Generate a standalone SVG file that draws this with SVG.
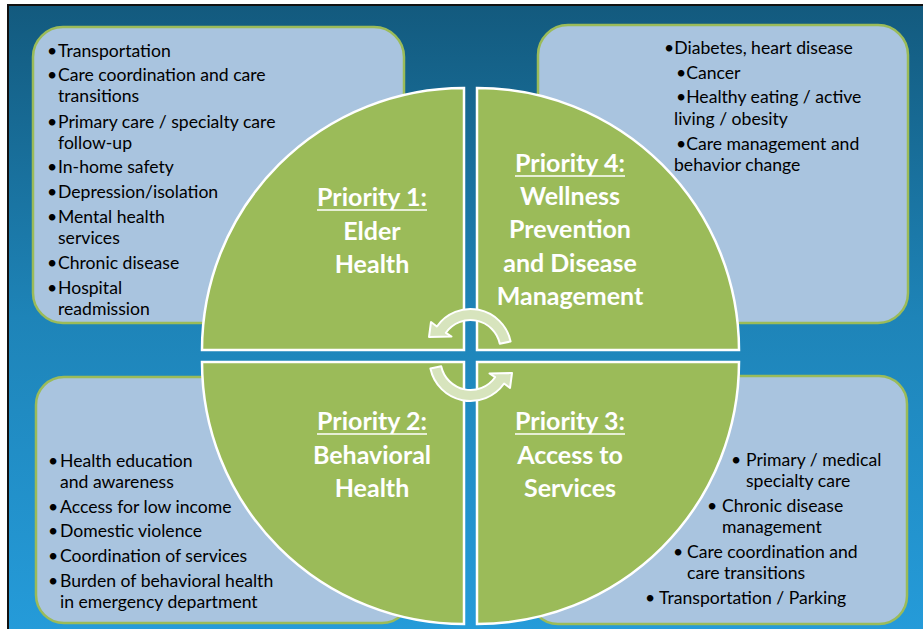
<svg xmlns="http://www.w3.org/2000/svg" width="923" height="629" viewBox="0 0 923 629">
<defs>
<linearGradient id="bg" x1="0" y1="0" x2="0" y2="1">
<stop offset="0" stop-color="#135a7e"/>
<stop offset="0.5" stop-color="#1e84b8"/>
<stop offset="1" stop-color="#259bd9"/>
</linearGradient>
<style>
.box{fill:#a9c4df;stroke:#9bbb59;stroke-width:2.5}
.quad{fill:#9bbb59;stroke:#ffffff;stroke-width:2.5}
.t{font-family:Lato,"Liberation Sans",sans-serif;font-size:17.6px;fill:#000}
.h{font-family:Lato,"Liberation Sans",sans-serif;font-size:25px;font-weight:bold;fill:#fff;text-anchor:middle}
.u{stroke:#fff;stroke-width:1.5}
.arr{fill:#d7e4bd;stroke:#ffffff;stroke-width:2;stroke-linejoin:round}
</style>
</defs>
<rect x="0" y="0" width="923" height="629" fill="#fff"/>
<rect x="8" y="5" width="916" height="625" fill="url(#bg)" stroke="#111" stroke-width="2"/>

<g id="box-elder">
<rect class="box" x="33" y="27" width="371" height="296" rx="30"/>
<text class="t" x="47" y="57">•</text><text class="t" x="58" y="57">Transportation</text>
<text class="t" x="47" y="81">•</text><text class="t" x="58" y="81">Care coordination and care</text>
<text class="t" x="58" y="102">transitions</text>
<text class="t" x="47" y="128">•</text><text class="t" x="58" y="128">Primary care / specialty care</text>
<text class="t" x="58" y="149">follow-up</text>
<text class="t" x="47" y="173">•</text><text class="t" x="58" y="173">In-home safety</text>
<text class="t" x="47" y="198">•</text><text class="t" x="58" y="198">Depression/isolation</text>
<text class="t" x="47" y="223">•</text><text class="t" x="58" y="223">Mental health</text>
<text class="t" x="58" y="244">services</text>
<text class="t" x="47" y="269">•</text><text class="t" x="58" y="269">Chronic disease</text>
<text class="t" x="47" y="294">•</text><text class="t" x="58" y="294">Hospital</text>
<text class="t" x="58" y="315">readmission</text>
</g>

<g id="box-wellness">
<rect class="box" x="538" y="25" width="370" height="298" rx="30"/>
<text class="t" x="664" y="54">•Diabetes, heart disease</text>
<text class="t" x="676" y="79">•Cancer</text>
<text class="t" x="676" y="103">•Healthy eating / active</text>
<text class="t" x="674" y="125">living / obesity</text>
<text class="t" x="676" y="150">•Care management and</text>
<text class="t" x="674" y="171">behavior change</text>
</g>

<g id="box-behavioral">
<rect class="box" x="36" y="377" width="374" height="246" rx="28"/>
<text class="t" x="48" y="467">•</text><text class="t" x="60" y="467">Health education</text>
<text class="t" x="60" y="488">and awareness</text>
<text class="t" x="48" y="513">•</text><text class="t" x="60" y="513">Access for low income</text>
<text class="t" x="48" y="537">•</text><text class="t" x="60" y="537">Domestic violence</text>
<text class="t" x="48" y="562">•</text><text class="t" x="60" y="562">Coordination of services</text>
<text class="t" x="48" y="587">•</text><text class="t" x="60" y="587">Burden of behavioral health</text>
<text class="t" x="60" y="608">in emergency department</text>
</g>

<g id="box-access">
<rect class="box" x="530" y="376" width="377" height="248" rx="28"/>
<text class="t" x="731" y="466">•</text><text class="t" x="746" y="466">Primary / medical</text>
<text class="t" x="746" y="487">specialty care</text>
<text class="t" x="707" y="512">•</text><text class="t" x="722" y="512">Chronic disease</text>
<text class="t" x="722" y="533">management</text>
<text class="t" x="673" y="558">•</text><text class="t" x="687" y="558">Care coordination and</text>
<text class="t" x="687" y="579">care transitions</text>
<text class="t" x="645" y="604">•</text><text class="t" x="659" y="604">Transportation / Parking</text>
</g>

<g id="priority-1">
<path class="quad" d="M464,350 L202,350 A262,262 0 0 1 464,88 Z"/>
<text class="h" x="372" y="206">Priority 1:</text>
<line class="u" x1="317" y1="210" x2="427" y2="210"/>
<text class="h" x="372" y="240">Elder</text>
<text class="h" x="372" y="273">Health</text>
</g>

<g id="priority-4">
<path class="quad" d="M477,350 L477,88 A262,262 0 0 1 739,350 Z"/>
<text class="h" x="570" y="172">Priority 4:</text>
<line class="u" x1="515" y1="176" x2="625" y2="176"/>
<text class="h" x="570" y="205">Wellness</text>
<text class="h" x="570" y="238">Prevention</text>
<text class="h" x="570" y="272">and Disease</text>
<text class="h" x="570" y="305">Management</text>
</g>

<g id="priority-2">
<path class="quad" d="M464,362 L464,624 A262,262 0 0 1 202,362 Z"/>
<text class="h" x="372" y="430">Priority 2:</text>
<line class="u" x1="317" y1="434" x2="427" y2="434"/>
<text class="h" x="372" y="464">Behavioral</text>
<text class="h" x="372" y="497">Health</text>
</g>

<g id="priority-3">
<path class="quad" d="M477,362 L739,362 A262,262 0 0 1 477,624 Z"/>
<text class="h" x="570" y="430">Priority 3:</text>
<line class="u" x1="515" y1="434" x2="625" y2="434"/>
<text class="h" x="570" y="464">Access to</text>
<text class="h" x="570" y="497">Services</text>
</g>

<g id="connectors">
<path class="arr" d="M510.6,341.5 A41,41 0 0 0 436.9,326.5 L431,322 L429,337 L451.5,336.5 L445.9,332.8 A30,30 0 0 1 499.8,343.8 Z"/>
<path class="arr" d="M430.4,368.5 A41,41 0 0 0 504.1,383.5 L510,388 L512,373 L489.5,373.5 L495.1,377.2 A30,30 0 0 1 441.2,366.2 Z"/>
</g>
</svg>
